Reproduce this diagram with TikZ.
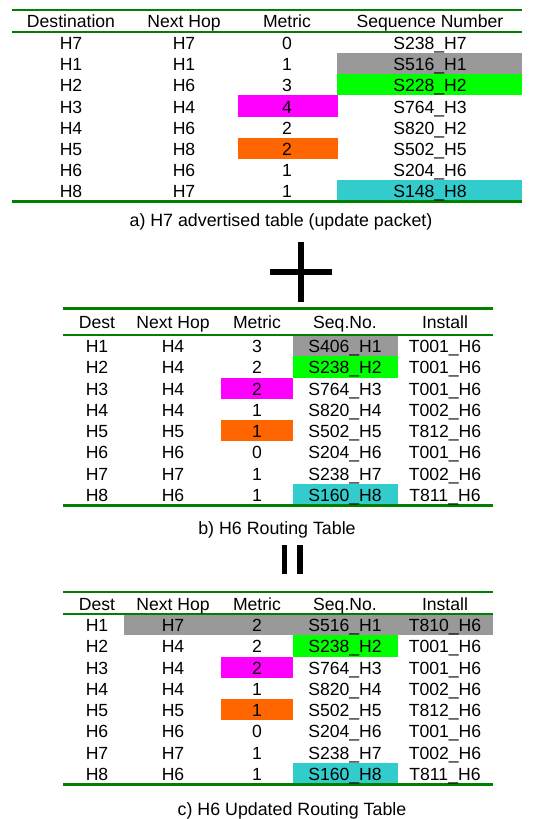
\documentclass[tikz,border=0pt]{standalone}
\usepackage{fontspec}
\setmainfont{Liberation Sans}
\definecolor{rulegreen}{RGB}{0,128,0}
\definecolor{hlgray}{RGB}{153,153,153}
\definecolor{hlgreen}{RGB}{0,255,0}
\definecolor{hlmagenta}{RGB}{255,0,255}
\definecolor{hlorange}{RGB}{255,102,0}
\definecolor{hlcyan}{RGB}{51,204,204}
\tikzset{
  cell/.style={inner sep=0pt, anchor=center, text height=12.6pt, text depth=0pt,
    font=\fontsize{17.6}{21}\selectfont},
  caption/.style={inner sep=0pt, anchor=center, font=\fontsize{17.8}{21}\selectfont},
  toprule/.style={draw=rulegreen, line width=2.6pt},
  midrule/.style={draw=rulegreen, line width=2pt},
  sign/.style={fill=black},
}
\begin{document}
\begin{tikzpicture}[x=1pt,y=-1pt]
\useasboundingbox (0,0) rectangle (543,819);

% ---------- a) advertised table ----------
\fill[hlgray]    (337,53.15)  rectangle (522,74.3);
\fill[hlgreen]   (337,74.3)   rectangle (522,95.45);
\fill[hlmagenta] (238,95.45)  rectangle (338,116.6);
\fill[hlorange]  (238,137.75) rectangle (338,158.9);
\fill[hlcyan]    (337,180.05) rectangle (522,201.2);
\draw[toprule] (12,10) -- (522,10);
\draw[midrule] (12,32) -- (522,32);
\draw[toprule] (12,201.5) -- (522,201.5);
\foreach \cx/\txt [count=\c] in {71/Destination,184/Next Hop,287/Metric,430/Sequence Number}
  \node[cell] (a-h-\c) at (\cx,21.5) {\txt};
\foreach \d/\n/\m/\s [count=\r] in {
  H7/H7/0/S238\_H7, H1/H1/1/S516\_H1, H2/H6/3/S228\_H2, H3/H4/4/S764\_H3,
  H4/H6/2/S820\_H2, H5/H8/2/S502\_H5, H6/H6/1/S204\_H6, H8/H7/1/S148\_H8}{
  \pgfmathsetmacro{\ry}{32+21.15*(\r-0.5)+0.8}
  \node[cell] (a-\r-1) at (71,\ry)  {\d};
  \node[cell] (a-\r-2) at (184,\ry) {\n};
  \node[cell] (a-\r-3) at (287,\ry) {\m};
  \node[cell] (a-\r-4) at (430,\ry) {\s};
}
\node[caption] (capa) at (281,222) {a) H7 advertised table (update packet)};

% ---------- plus sign ----------
\fill[sign] (297.5,241.7) rectangle (304,301.7);
\fill[sign] (270,269.3) rectangle (331.7,275);

% ---------- b) routing table ----------
\fill[hlgray]    (293,335)    rectangle (398,356.25);
\fill[hlgreen]   (293,356.25) rectangle (398,377.5);
\fill[hlmagenta] (221,377.5)  rectangle (293,398.75);
\fill[hlorange]  (221,420)    rectangle (293,441.25);
\fill[hlcyan]    (293,483.75) rectangle (398,505);
\draw[toprule] (63,308.5) -- (493,308.5);
\draw[midrule] (63,335) -- (493,335);
\draw[toprule] (63,505.5) -- (493,505.5);
\foreach \cx/\txt [count=\c] in {97/Dest,173/Next Hop,257/Metric,345/Seq.No.,445/Install}
  \node[cell] (b-h-\c) at (\cx,322) {\txt};
\foreach \d/\n/\m/\s/\t [count=\r] in {
  H1/H4/3/S406\_H1/T001\_H6, H2/H4/2/S238\_H2/T001\_H6, H3/H4/2/S764\_H3/T001\_H6,
  H4/H4/1/S820\_H4/T002\_H6, H5/H5/1/S502\_H5/T812\_H6, H6/H6/0/S204\_H6/T001\_H6,
  H7/H7/1/S238\_H7/T002\_H6, H8/H6/1/S160\_H8/T811\_H6}{
  \pgfmathsetmacro{\ry}{335+21.25*(\r-0.5)+0.8}
  \node[cell] (b-\r-1) at (97,\ry)  {\d};
  \node[cell] (b-\r-2) at (173,\ry) {\n};
  \node[cell] (b-\r-3) at (257,\ry) {\m};
  \node[cell] (b-\r-4) at (345,\ry) {\s};
  \node[cell] (b-\r-5) at (445,\ry) {\t};
}
\node[caption] (capb) at (277,530) {b) H6 Routing Table};

% ---------- equals bars ----------
\fill[sign] (281.7,545) rectangle (286.9,574);
\fill[sign] (297.3,545) rectangle (302.7,574);

% ---------- c) updated routing table ----------
\fill[hlgray]    (124,614)    rectangle (493,635.25);
\fill[hlgreen]   (293,635.25) rectangle (398,656.5);
\fill[hlmagenta] (221,656.5)  rectangle (293,677.75);
\fill[hlorange]  (221,699)    rectangle (293,720.25);
\fill[hlcyan]    (293,762.75) rectangle (398,784);
\draw[toprule] (63,592) -- (493,592);
\draw[midrule] (63,614) -- (493,614);
\draw[toprule] (63,784.5) -- (493,784.5);
\foreach \cx/\txt [count=\c] in {97/Dest,173/Next Hop,257/Metric,345/Seq.No.,445/Install}
  \node[cell] (c-h-\c) at (\cx,604) {\txt};
\foreach \d/\n/\m/\s/\t [count=\r] in {
  H1/H7/2/S516\_H1/T810\_H6, H2/H4/2/S238\_H2/T001\_H6, H3/H4/2/S764\_H3/T001\_H6,
  H4/H4/1/S820\_H4/T002\_H6, H5/H5/1/S502\_H5/T812\_H6, H6/H6/0/S204\_H6/T001\_H6,
  H7/H7/1/S238\_H7/T002\_H6, H8/H6/1/S160\_H8/T811\_H6}{
  \pgfmathsetmacro{\ry}{614+21.25*(\r-0.5)+0.8}
  \node[cell] (c-\r-1) at (97,\ry)  {\d};
  \node[cell] (c-\r-2) at (173,\ry) {\n};
  \node[cell] (c-\r-3) at (257,\ry) {\m};
  \node[cell] (c-\r-4) at (345,\ry) {\s};
  \node[cell] (c-\r-5) at (445,\ry) {\t};
}
\node[caption] (capc) at (292,811) {c) H6 Updated Routing Table};
\end{tikzpicture}
\end{document}
